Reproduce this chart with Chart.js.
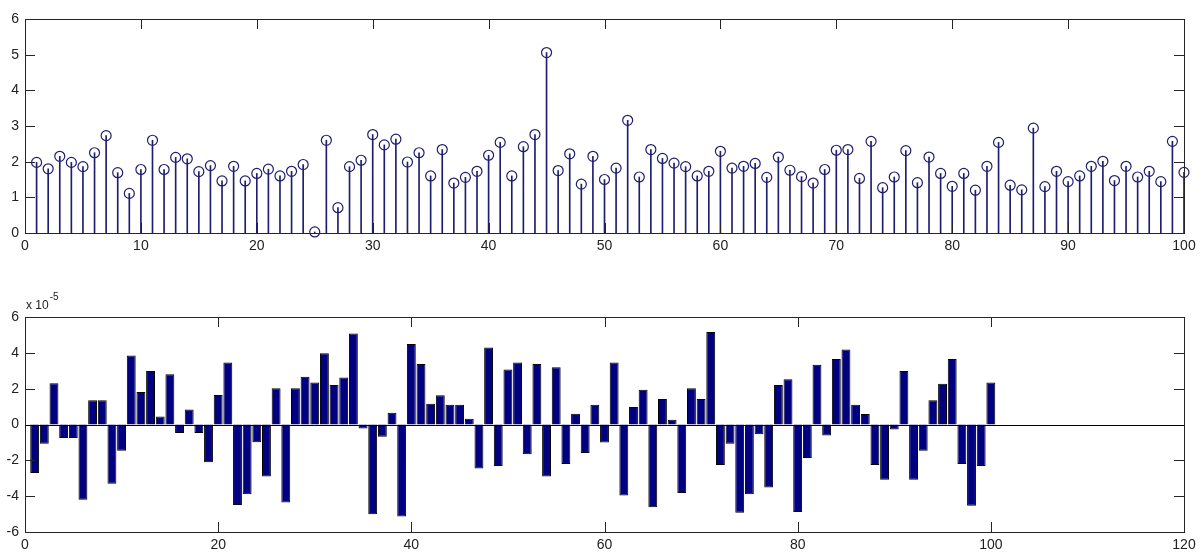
<!DOCTYPE html>
<html>
<head>
<meta charset="utf-8">
<script src="https://cdn.jsdelivr.net/npm/chart.js@4/dist/chart.umd.min.js"></script>
<style>
  html, body { margin: 0; padding: 0; background: #fff; }
  .box { position: absolute; left: 0; width: 1202px; }
  #top { top: 0; height: 262px; }
  #bottom { top: 262px; height: 290px; }
</style>
</head>
<body>
<div class="box" id="top"><canvas id="stemChart"></canvas></div>
<div class="box" id="bottom"><canvas id="barChart"></canvas></div>
<script>
"use strict";

// upper plot: stem values, sample 1..100
var stemValues = [
    1.98, 1.80, 2.15, 1.98, 1.86, 2.25, 2.73, 1.69, 1.11, 1.78,
    2.60, 1.78, 2.12, 2.08, 1.72, 1.89, 1.46, 1.87, 1.46, 1.67,
    1.79, 1.60, 1.73, 1.92, 0.03, 2.60, 0.71, 1.86, 2.04, 2.76,
    2.47, 2.63, 1.99, 2.25, 1.60, 2.34, 1.40, 1.56, 1.73, 2.18,
    2.54, 1.60, 2.42, 2.76, 5.06, 1.75, 2.22, 1.37, 2.15, 1.50,
    1.82, 3.16, 1.57, 2.34, 2.09, 1.96, 1.86, 1.60, 1.73, 2.29,
    1.82, 1.87, 1.95, 1.56, 2.13, 1.76, 1.58, 1.40, 1.78, 2.32,
    2.34, 1.53, 2.57, 1.27, 1.57, 2.31, 1.41, 2.13, 1.67, 1.31,
    1.67, 1.20, 1.87, 2.54, 1.34, 1.21, 2.94, 1.30, 1.73, 1.44,
    1.60, 1.87, 2.01, 1.47, 1.87, 1.57, 1.73, 1.44, 2.57, 1.70
];

// lower plot: bar values in units of 1e-5, sample 1..100
var barValues = [
    -2.71, -1.07, 2.30, -0.75, -0.75, -4.20, 1.36, 1.36, -3.31, -1.46,
    3.85, 1.81, 2.99, 0.45, 2.80, -0.47, 0.84, -0.47, -2.11, 1.64,
    3.46, -4.49, -3.89, -0.99, -2.90, 2.02, -4.36, 2.02, 2.67, 2.34,
    3.98, 2.21, 2.62, 5.08, -0.22, -5.01, -0.69, 0.65, -5.14, 4.50,
    3.38, 1.16, 1.63, 1.10, 1.10, 0.32, -2.45, 4.30, -2.32, 3.07,
    3.46, -1.66, 3.38, -2.90, 3.20, -2.21, 0.60, -1.59, 1.10, -1.01,
    3.46, -3.96, 0.97, 1.94, -4.62, 1.42, 0.26, -3.83, 2.02, 1.42,
    5.16, -2.26, -1.07, -4.93, -3.89, -0.54, -3.51, 2.21, 2.52, -4.88,
    -1.87, 3.33, -0.62, 3.66, 4.19, 1.10, 0.58, -2.26, -3.08, -0.28,
    2.99, -3.08, -1.46, 1.36, 2.28, 3.66, -2.21, -4.54, -2.32, 2.34
];

var stemXTicks = [0, 10, 20, 30, 40, 50, 60, 70, 80, 90, 100];
var stemYTicks = [0, 1, 2, 3, 4, 5, 6];
var barXTicks = [0, 20, 40, 60, 80, 100, 120];
var barYTicks = [-6, -4, -2, 0, 2, 4, 6];
var barExponent = "-5";

var STEM_COLOR = "#1e1e6e";
var BAR_COLOR = "#000080";
var AXIS_COLOR = "#262626";
var FONT = { family: "'Liberation Sans', Arial, sans-serif", size: 14 };

function toPoints(values) {
    return values.map(function (v, i) { return { x: i + 1, y: v }; });
}

function fixedTicks(list) {
    return function (scale) {
        scale.ticks = list.map(function (v) { return { value: v }; });
    };
}

// matlab style box with ticks pointing inwards on all four sides
var boxTicks = {
    id: "boxTicks",
    afterDraw: function (chart, args, opts) {
        var a = chart.chartArea, ctx = chart.ctx;
        var len = 10;
        ctx.save();
        ctx.strokeStyle = AXIS_COLOR;
        ctx.lineWidth = 1;
        ctx.beginPath();
        chart.scales.x.ticks.forEach(function (t) {
            var px = Math.round(chart.scales.x.getPixelForValue(t.value)) + 0.5;
            ctx.moveTo(px, a.bottom); ctx.lineTo(px, a.bottom - len);
            ctx.moveTo(px, a.top); ctx.lineTo(px, a.top + len);
        });
        chart.scales.y.ticks.forEach(function (t) {
            var py = Math.round(chart.scales.y.getPixelForValue(t.value)) + 0.5;
            ctx.moveTo(a.left, py); ctx.lineTo(a.left + len, py);
            ctx.moveTo(a.right, py); ctx.lineTo(a.right - len, py);
        });
        ctx.stroke();
        // bar baseline
        if (opts && opts.baseline) {
            var zy = Math.round(chart.scales.y.getPixelForValue(0)) + 0.5;
            ctx.strokeStyle = "#000";
            ctx.beginPath();
            ctx.moveTo(a.left, zy); ctx.lineTo(a.right, zy);
            ctx.stroke();
        }
        ctx.strokeStyle = AXIS_COLOR;
        ctx.strokeRect(Math.round(a.left) + 0.5, Math.round(a.top) + 0.5,
            Math.round(a.right - a.left), Math.round(a.bottom - a.top));
        ctx.restore();
    }
};

// "x 10^-5" multiplier above the lower axes
var exponentLabel = {
    id: "exponentLabel",
    afterDraw: function (chart) {
        var ctx = chart.ctx, a = chart.chartArea;
        ctx.save();
        ctx.fillStyle = "#222";
        ctx.textBaseline = "alphabetic";
        ctx.font = "12px " + FONT.family;
        ctx.fillText("x 10", a.left + 1, a.top - 8);
        var w = ctx.measureText("x 10").width;
        ctx.font = "10px " + FONT.family;
        ctx.fillText(barExponent, a.left + 2 + w, a.top - 17);
        ctx.restore();
    }
};

function axisOptions(xTicks, yTicks, xMax, yMin, yMax, xHeight) {
    return {
        x: {
            type: "linear", min: 0, max: xMax, offset: false,
            afterBuildTicks: fixedTicks(xTicks),
            afterFit: function (s) { s.height = xHeight; },
            grid: { display: false, drawTicks: false },
            border: { display: false },
            ticks: { color: "#222", font: FONT, padding: 5, maxRotation: 0,
                callback: function (v) { return v; } }
        },
        y: {
            min: yMin, max: yMax,
            afterBuildTicks: fixedTicks(yTicks),
            afterFit: function (s) { s.width = 25; },
            grid: { display: false, drawTicks: false },
            border: { display: false },
            ticks: { color: "#222", font: FONT, padding: 6,
                callback: function (v) { return v; } }
        }
    };
}

var stemChart = new Chart(document.getElementById("stemChart"), {
    type: "bar",
    data: {
        datasets: [{
            type: "bar",
            data: toPoints(stemValues),
            backgroundColor: STEM_COLOR,
            barThickness: 1,
            borderWidth: 0
        }, {
            type: "line",
            data: toPoints(stemValues),
            showLine: false,
            pointStyle: "circle",
            pointRadius: 5,
            pointBorderWidth: 1.2,
            pointBorderColor: STEM_COLOR,
            pointBackgroundColor: "rgba(0,0,0,0)",
            clip: false
        }]
    },
    options: {
        responsive: true,
        maintainAspectRatio: false,
        animation: false,
        layout: { padding: { top: 19, right: 18, left: 0, bottom: 0 } },
        plugins: { legend: { display: false }, tooltip: { enabled: false } },
        events: [],
        scales: axisOptions(stemXTicks, stemYTicks, 100, 0, 6, 29)
    },
    plugins: [boxTicks]
});

var barChart = new Chart(document.getElementById("barChart"), {
    type: "bar",
    data: {
        datasets: [{
            data: toPoints(barValues),
            backgroundColor: BAR_COLOR,
            borderColor: "#000",
            borderWidth: 1,
            categoryPercentage: 1,
            barPercentage: 0.92
        }]
    },
    options: {
        responsive: true,
        maintainAspectRatio: false,
        animation: false,
        layout: { padding: { top: 55, right: 18, left: 0, bottom: 0 } },
        plugins: {
            legend: { display: false },
            tooltip: { enabled: false },
            boxTicks: { baseline: true }
        },
        events: [],
        scales: axisOptions(barXTicks, barYTicks, 120, -6, 6, 20)
    },
    plugins: [boxTicks, exponentLabel]
});
</script>
</body>
</html>
